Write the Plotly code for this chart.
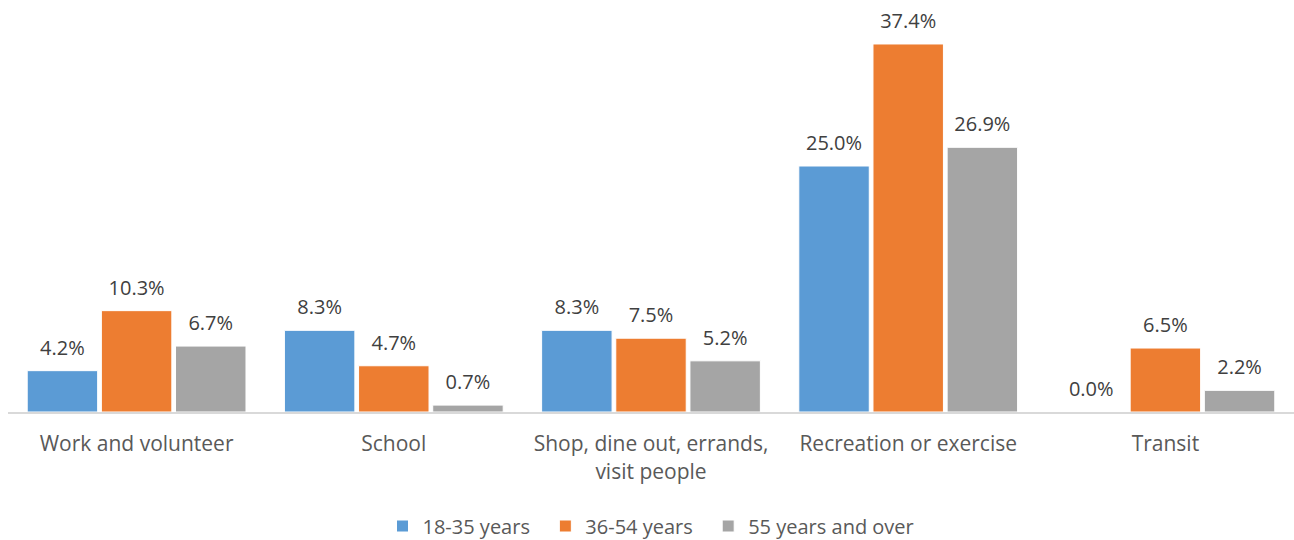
import plotly.graph_objects as go

categories = ["Work and volunteer", "School", "Shop, dine out, errands,<br>visit people",
              "Recreation or exercise", "Transit"]
series_names = ["18-35 years", "36-54 years", "55 years and over"]
age_18_35 = [4.2, 8.3, 8.3, 25.0, 0.0]
age_36_54 = [10.3, 4.7, 7.5, 37.4, 6.5]
age_55_plus = [6.7, 0.7, 5.2, 26.9, 2.2]
colors = ["#5B9BD5", "#ED7D31", "#A5A5A5"]

FONT = "Open Sans"
NBSP = "\u00a0"

fig = go.Figure()
series = [age_18_35, age_36_54, age_55_plus]
for i, (name, vals, col) in enumerate(zip(series_names, series, colors)):
    # pad legend entries (except the last) for wider spacing between items
    legend_name = name + (NBSP * 2 if i < len(series_names) - 1 else "")
    fig.add_trace(go.Bar(
        x=categories, y=vals, name=legend_name, offsetgroup=str(i),
        marker=dict(color=col, line=dict(color="white", width=1)),
        hovertemplate=name + ": %{y:.1f}%<extra></extra>",
    ))
    # value labels, grouped the same way as the bars
    fig.add_trace(go.Scatter(
        x=categories, y=vals, offsetgroup=str(i), showlegend=False,
        mode="markers+text", marker=dict(size=16, opacity=0),
        text=[f"{v:.1f}%" for v in vals], textposition="top center",
        textfont=dict(family=FONT, size=20, color="#404040"),
        cliponaxis=False, hoverinfo="skip",
    ))

fig.update_layout(
    width=1294, height=540,
    margin=dict(l=8, r=0, t=10, b=128, autoexpand=False),
    paper_bgcolor="white", plot_bgcolor="white",
    barmode="group", bargap=0.135, bargroupgap=0.05,
    scattermode="group", scattergap=0.135,
    font=dict(family=FONT, size=20, color="#595959"),
    showlegend=True,
    legend=dict(orientation="h", x=0.5, xanchor="center", y=-0.2836, yanchor="middle",
                font=dict(family=FONT, size=20, color="#595959"),
                itemwidth=30, traceorder="normal"),
    xaxis=dict(showline=True, linecolor="#D9D9D9", linewidth=2, ticks="",
               tickfont=dict(family=FONT, size=21, color="#595959"),
               ticklabelstandoff=12, automargin=False,
               showgrid=False, zeroline=False),
    yaxis=dict(range=[0, 402 / 9.84], visible=False, showgrid=False, zeroline=False,
               automargin=False),
)

fig.write_html("out.html")
